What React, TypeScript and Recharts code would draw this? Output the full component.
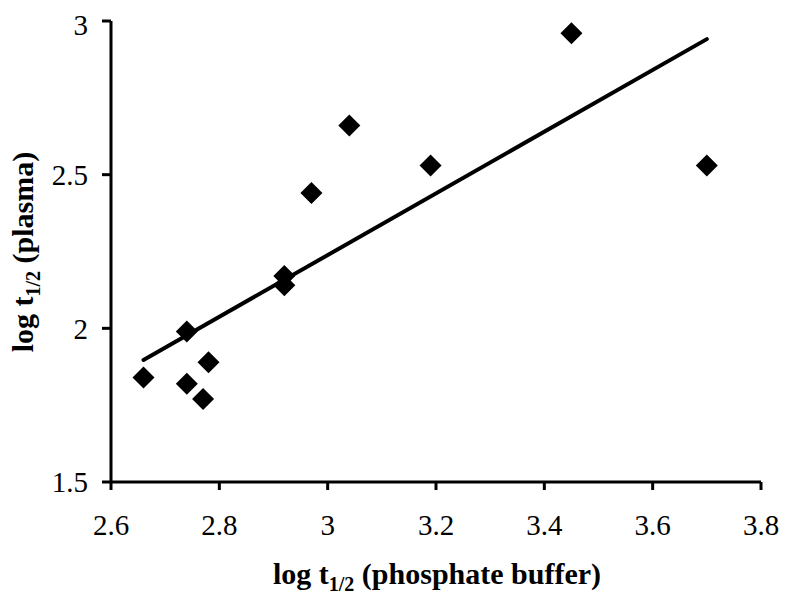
import { ReferenceLine, Scatter, ScatterChart, XAxis, YAxis } from "recharts";

// log t1/2 in phosphate buffer (x) vs plasma (y)
const bufferLogT = [2.66, 2.74, 2.74, 2.77, 2.78, 2.92, 2.92, 2.97, 3.04, 3.19, 3.45, 3.7];
const plasmaLogT = [1.84, 1.99, 1.82, 1.77, 1.89, 2.17, 2.14, 2.44, 2.66, 2.53, 2.96, 2.53];

// linear trendline end points
const trendX = [2.66, 3.7];
const trendY = [1.897, 2.941];

const xTicks = [2.6, 2.8, 3, 3.2, 3.4, 3.6, 3.8];
const yTicks = [1.5, 2, 2.5, 3];

const FONT = '"Liberation Serif", "DejaVu Serif", serif';

const points = bufferLogT.map((x, i) => ({ x, y: plasmaLogT[i] }));

function Diamond(props: any) {
  const { cx, cy } = props;
  const r = 11;
  return <polygon points={`${cx},${cy - r} ${cx + r},${cy} ${cx},${cy + r} ${cx - r},${cy}`} fill="#000" />;
}

function XLabel() {
  return (
    <text x={429} y={576} textAnchor="middle" style={{ fontFamily: FONT, fontWeight: "bold", fontSize: 30 }} fill="#000">
      log t
      <tspan style={{ fontSize: 20 }} dy={7}>
        1/2
      </tspan>
      <tspan dy={-7}> (phosphate buffer)</tspan>
    </text>
  );
}

function YLabel() {
  return (
    <text
      x={25}
      y={244}
      transform="rotate(-90 25 244)"
      textAnchor="middle"
      style={{ fontFamily: FONT, fontWeight: "bold", fontSize: 30 }}
      fill="#000"
    >
      log t
      <tspan style={{ fontSize: 20 }} dy={7}>
        1/2
      </tspan>
      <tspan dy={-7}> (plasma)</tspan>
    </text>
  );
}

export default function App() {
  const tickStyle = { fill: "#000", fontSize: 29, style: { fontFamily: FONT } };
  return (
    <div style={{ width: 780, height: 590, fontFamily: FONT }}>
      <ScatterChart
        width={780}
        height={590}
        margin={{ top: 13, right: 27, bottom: 0, left: 0 }}
        style={{ fontFamily: FONT }}
      >
        <XAxis
          type="number"
          dataKey="x"
          domain={[2.6, 3.8]}
          ticks={xTicks}
          height={116}
          tick={tickStyle}
          tickSize={8}
          tickMargin={24}
          axisLine={{ stroke: "#000", strokeWidth: 3 }}
          tickLine={{ stroke: "#000", strokeWidth: 3 }}
          label={{ content: () => <XLabel /> }}
        />
        <YAxis
          type="number"
          dataKey="y"
          domain={[1.5, 3]}
          ticks={yTicks}
          width={103}
          tick={tickStyle}
          tickSize={9}
          tickMargin={14}
          axisLine={{ stroke: "#000", strokeWidth: 3 }}
          tickLine={{ stroke: "#000", strokeWidth: 3 }}
          label={{ content: () => <YLabel /> }}
        />
        <ReferenceLine
          segment={[
            { x: trendX[0], y: trendY[0] },
            { x: trendX[1], y: trendY[1] },
          ]}
          stroke="#000"
          strokeWidth={4}
          strokeLinecap="round"
        />
        <Scatter data={points} shape={<Diamond />} isAnimationActive={false} />
      </ScatterChart>
    </div>
  );
}
